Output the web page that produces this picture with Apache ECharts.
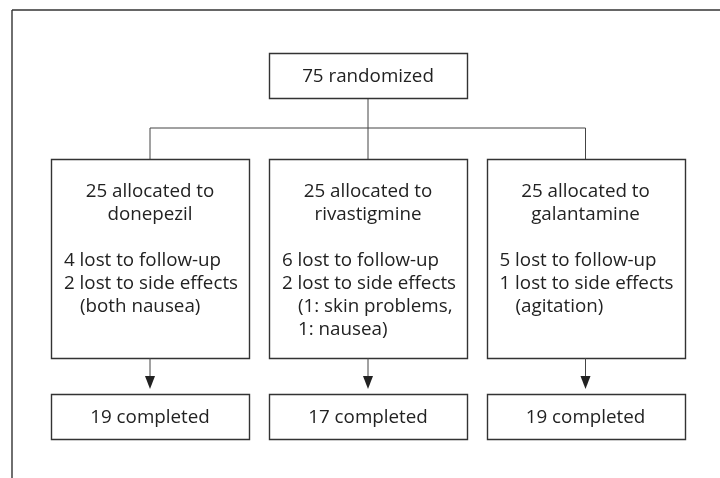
<!DOCTYPE html>
<html>
<head>
<meta charset="utf-8">
<script src="https://cdn.jsdelivr.net/npm/echarts@6/dist/echarts.min.js"></script>
<style>html,body{margin:0;padding:0;background:#fff}#c{width:720px;height:478px}</style>
</head>
<body>
<div id="c"></div>
<script>
// ---- data ----
const randomized = 75;
const arms = ['donepezil', 'rivastigmine', 'galantamine'];
const allocated = [25, 25, 25];
const lostFollowUp = [4, 6, 5];
const lostSideEffects = [2, 2, 1];
const sideEffectNotes = [['(both nausea)'], ['(1: skin problems,', '1: nausea)'], ['(agitation)']];
const completed = [19, 17, 19];

// ---- layout (pixel space mapped by hidden value axes) ----
const armCenters = [150, 368, 585.5];
const halfW = 99;
const LINE = 23;
const FONT = '18.8px "Open Sans"';
const TXT = '#222';
const BOX = '#333';

const chart = echarts.init(document.getElementById('c'), null, {renderer: 'canvas'});

function line(api, a, b, w, c) {
  const p = api.coord(a), q = api.coord(b);
  return {type: 'line', shape: {x1: p[0], y1: p[1], x2: q[0], y2: q[1]}, style: {stroke: c || '#444', lineWidth: w || 1}};
}
function rect(api, x0, y0, x1, y1) {
  const p = api.coord([x0, y0]), q = api.coord([x1, y1]);
  return {type: 'rect', shape: {x: Math.round(p[0]) + 0.5, y: Math.round(p[1]) + 0.5, width: Math.round(q[0] - p[0]), height: Math.round(q[1] - p[1])},
    style: {fill: '#fff', stroke: BOX, lineWidth: 1.4}};
}
function text(api, s, x, y, align) {
  const p = api.coord([x, y + 1]);
  return {type: 'text', style: {text: s, x: p[0], y: p[1], fill: TXT, font: FONT, align: align || 'center', verticalAlign: 'middle'}};
}

const option = {
  animation: false,
  grid: {left: 0, right: 0, top: 0, bottom: 0},
  xAxis: {type: 'value', min: 0, max: 720, show: false},
  yAxis: {type: 'value', min: 0, max: 478, inverse: true, show: false},
  series: [
    {
      type: 'custom',
      coordinateSystem: 'cartesian2d',
      data: [[randomized]],
      renderItem: function (params, api) {
        const c = armCenters[1];
        const ch = [
          line(api, [12, 10], [720, 10], 1.4, '#333'),
          line(api, [12, 10], [12, 478], 1.4, '#333'),
          line(api, [c, 98], [c, 128]),
          line(api, [armCenters[0], 128], [armCenters[2], 128]),
          rect(api, c - halfW, 53, c + halfW, 98),
          text(api, api.value(0) + ' randomized', c, 76)
        ];
        return {type: 'group', children: ch};
      }
    },
    {
      type: 'custom',
      coordinateSystem: 'cartesian2d',
      data: arms.map((a, i) => [i, allocated[i], lostFollowUp[i], lostSideEffects[i], completed[i]]),
      renderItem: function (params, api) {
        const i = api.value(0);
        const c = armCenters[i];
        const lx = c - halfW + 13;
        const ch = [
          line(api, [c, 128], [c, 159]),
          rect(api, c - halfW, 159, c + halfW, 358),
          text(api, api.value(1) + ' allocated to', c, 191),
          text(api, arms[i], c, 214),
          text(api, api.value(2) + ' lost to follow-up', lx, 260, 'left'),
          text(api, api.value(3) + ' lost to side effects', lx, 283, 'left')
        ];
        sideEffectNotes[i].forEach((s, k) => ch.push(text(api, s, lx + 16, 306 + k * LINE, 'left')));
        const a = api.coord([c, 358]), b = api.coord([c, 389]);
        ch.push({type: 'line', shape: {x1: a[0], y1: a[1], x2: b[0], y2: b[1] - 10}, style: {stroke: '#444', lineWidth: 1}});
        ch.push({type: 'polygon', shape: {points: [[b[0] - 5, b[1] - 13], [b[0] + 5, b[1] - 13], [b[0], b[1]]]}, style: {fill: '#222'}});
        ch.push(rect(api, c - halfW, 394, c + halfW, 439));
        ch.push(text(api, api.value(4) + ' completed', c, 417));
        return {type: 'group', children: ch};
      }
    }
  ]
};
chart.setOption(option);
</script>
</body>
</html>
